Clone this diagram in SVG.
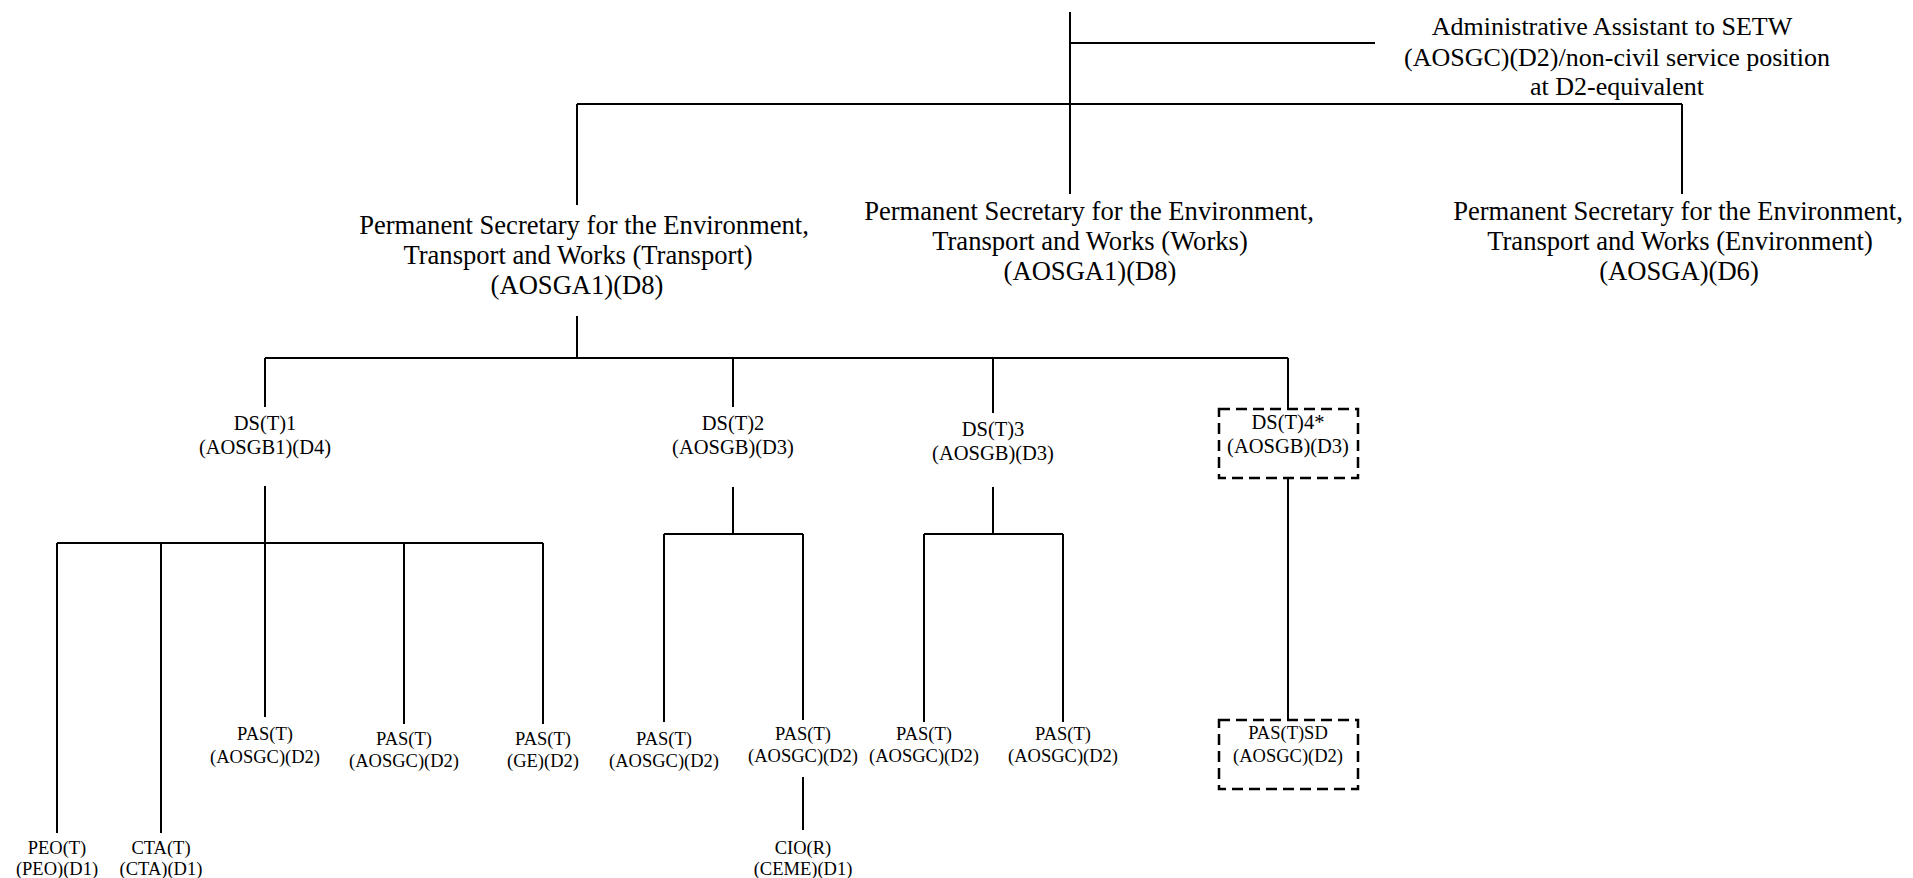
<svg xmlns="http://www.w3.org/2000/svg" width="1913" height="878" viewBox="0 0 1913 878">
<style>
.ln{stroke:#000;stroke-width:2;fill:none}
.dash{stroke:#000;stroke-width:2.5;stroke-dasharray:11 6;fill:none}
text{font-family:"Liberation Serif","Times New Roman",serif;fill:#000;text-anchor:middle}
.t0{font-size:26px}
.t1{font-size:26.6px}
.t2{font-size:20.5px}
.t3{font-size:18.5px}
</style>
<rect width="1913" height="878" fill="#fff"/>
<g id="connectors">
<path class="ln" d="M1070 12V194M1070 43H1375"/>
<path class="ln" d="M577 104H1682M577 104V205M1682 104V194"/>
<path class="ln" d="M577 316V358M265 358H1288M265 358V407M733 358V407M993 358V413M1288 358V408"/>
<path class="ln" d="M265 486V543M57 543H543M57 543V833M161 543V833M265 543V717M404 543V724M543 543V724"/>
<path class="ln" d="M733 487V534M664 534H803M664 534V722M803 534V720"/>
<path class="ln" d="M993 487V534M924 534H1063M924 534V722M1063 534V722"/>
<path class="ln" d="M1288 478V720"/>
<path class="ln" d="M803 777V830"/>
</g>
<g id="admin-assistant" class="t0">
<text x="1612" y="35">Administrative Assistant to SETW</text>
<text x="1617" y="65.5">(AOSGC)(D2)/non-civil service position</text>
<text x="1617" y="95">at D2-equivalent</text>
</g>
<g id="ps-transport" class="t1">
<text x="584" y="234">Permanent Secretary for the Environment,</text>
<text x="578" y="264">Transport and Works (Transport)</text>
<text x="577" y="294">(AOSGA1)(D8)</text>
</g>
<g id="ps-works" class="t1">
<text x="1089" y="220">Permanent Secretary for the Environment,</text>
<text x="1090" y="250">Transport and Works (Works)</text>
<text x="1090" y="280">(AOSGA1)(D8)</text>
</g>
<g id="ps-environment" class="t1">
<text x="1678" y="220">Permanent Secretary for the Environment,</text>
<text x="1680" y="250">Transport and Works (Environment)</text>
<text x="1679" y="280">(AOSGA)(D6)</text>
</g>
<g id="ds-t1" class="t2">
<text x="265" y="430">DS(T)1</text>
<text x="265" y="454">(AOSGB1)(D4)</text>
</g>
<g id="ds-t2" class="t2">
<text x="733" y="430">DS(T)2</text>
<text x="733" y="454">(AOSGB)(D3)</text>
</g>
<g id="ds-t3" class="t2">
<text x="993" y="436">DS(T)3</text>
<text x="993" y="460">(AOSGB)(D3)</text>
</g>
<g id="ds-t4" class="t2">
<rect class="dash" x="1219" y="409" width="139" height="69"/>
<text x="1288" y="429">DS(T)4*</text>
<text x="1288" y="453">(AOSGB)(D3)</text>
</g>
<g id="peo-t" class="t3">
<text x="57" y="854">PEO(T)</text>
<text x="57" y="875">(PEO)(D1)</text>
</g>
<g id="cta-t" class="t3">
<text x="161" y="854">CTA(T)</text>
<text x="161" y="875">(CTA)(D1)</text>
</g>
<g id="pas-t-1" class="t3">
<text x="265" y="740">PAS(T)</text>
<text x="265" y="763">(AOSGC)(D2)</text>
</g>
<g id="pas-t-2" class="t3">
<text x="404" y="745">PAS(T)</text>
<text x="404" y="767">(AOSGC)(D2)</text>
</g>
<g id="pas-t-3" class="t3">
<text x="543" y="745">PAS(T)</text>
<text x="543" y="767">(GE)(D2)</text>
</g>
<g id="pas-t-4" class="t3">
<text x="664" y="745">PAS(T)</text>
<text x="664" y="767">(AOSGC)(D2)</text>
</g>
<g id="pas-t-5" class="t3">
<text x="803" y="740">PAS(T)</text>
<text x="803" y="762">(AOSGC)(D2)</text>
</g>
<g id="pas-t-6" class="t3">
<text x="924" y="740">PAS(T)</text>
<text x="924" y="762">(AOSGC)(D2)</text>
</g>
<g id="pas-t-7" class="t3">
<text x="1063" y="740">PAS(T)</text>
<text x="1063" y="762">(AOSGC)(D2)</text>
</g>
<g id="pas-t-sd" class="t3">
<rect class="dash" x="1219" y="720" width="139" height="69"/>
<text x="1288" y="739">PAS(T)SD</text>
<text x="1288" y="762">(AOSGC)(D2)</text>
</g>
<g id="cio-r" class="t3">
<text x="803" y="854">CIO(R)</text>
<text x="803" y="875">(CEME)(D1)</text>
</g>
</svg>
